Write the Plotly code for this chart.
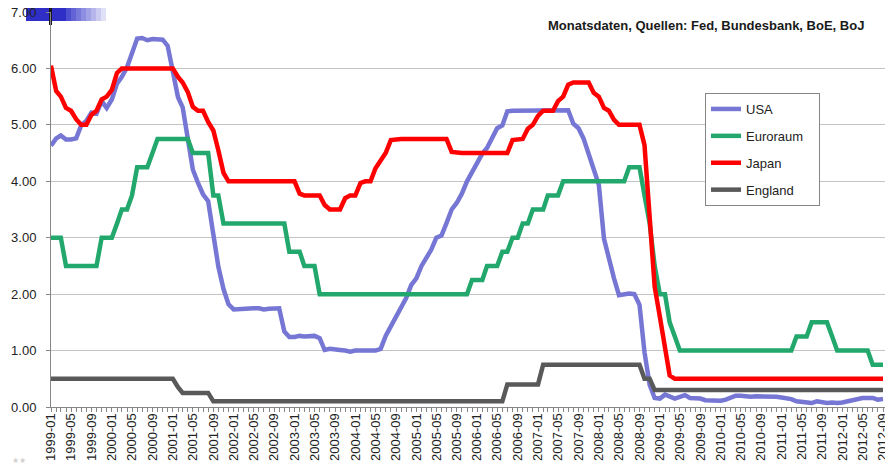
import pandas as pd
import plotly.graph_objects as go

# Leitzinsen, Monatsdaten 1999-01 .. 2012-09
months = pd.date_range("1999-01-01", "2012-09-01", freq="MS")
tick_months = months[::4]
tick_labels = [d.strftime("%Y-%m") for d in tick_months]

usa = [
    4.63, 4.76, 4.81, 4.74, 4.74, 4.76, 4.99, 5.07, 5.22, 5.20, 5.42, 5.30,
    5.45, 5.73, 5.85, 6.02, 6.27, 6.53, 6.54, 6.50, 6.52, 6.51, 6.51, 6.40,
    5.98, 5.49, 5.31, 4.80, 4.21, 3.97, 3.77, 3.65, 3.07, 2.49, 2.09, 1.82,
    1.73, 1.74, 1.73, 1.75, 1.75, 1.75, 1.73, 1.74, 1.75, 1.75, 1.34, 1.24,
    1.24, 1.26, 1.25, 1.26, 1.26, 1.22, 1.01, 1.03, 1.01, 1.01, 1.00, 0.98,
    1.00, 1.01, 1.00, 1.00, 1.00, 1.03, 1.26, 1.43, 1.61, 1.76, 1.93, 2.16,
    2.28, 2.50, 2.63, 2.79, 3.00, 3.04, 3.26, 3.50, 3.62, 3.78, 4.00, 4.16,
    4.29, 4.49, 4.59, 4.79, 4.94, 4.99, 5.24, 5.25, 5.25, 5.25, 5.25, 5.24,
    5.25, 5.26, 5.26, 5.25, 5.25, 5.25, 5.26, 5.02, 4.94, 4.76, 4.49, 4.24,
    3.94, 2.98, 2.61, 2.28, 1.98, 2.00, 2.01, 2.00, 1.81, 0.97, 0.39, 0.16,
    0.15, 0.22, 0.18, 0.15, 0.18, 0.21, 0.16, 0.16, 0.15, 0.12, 0.12, 0.12,
    0.11, 0.13, 0.16, 0.20, 0.20, 0.18, 0.18, 0.19, 0.19, 0.19, 0.19, 0.18,
    0.17, 0.16, 0.14, 0.10, 0.09, 0.09, 0.07, 0.10, 0.08, 0.07, 0.08, 0.07,
    0.08, 0.10, 0.13, 0.14, 0.16, 0.16, 0.16, 0.13, 0.14,
]

euroraum = [
    3.00, 3.00, 3.00, 2.50, 2.50, 2.50, 2.50, 2.50, 2.50, 2.50, 3.00, 3.00,
    3.00, 3.25, 3.50, 3.50, 3.75, 4.25, 4.25, 4.25, 4.50, 4.75, 4.75, 4.75,
    4.75, 4.75, 4.75, 4.75, 4.50, 4.50, 4.50, 4.50, 3.75, 3.75, 3.25, 3.25,
    3.25, 3.25, 3.25, 3.25, 3.25, 3.25, 3.25, 3.25, 3.25, 3.25, 3.25, 2.75,
    2.75, 2.75, 2.50, 2.50, 2.50, 2.00, 2.00, 2.00, 2.00, 2.00, 2.00, 2.00,
    2.00, 2.00, 2.00, 2.00, 2.00, 2.00, 2.00, 2.00, 2.00, 2.00, 2.00, 2.00,
    2.00, 2.00, 2.00, 2.00, 2.00, 2.00, 2.00, 2.00, 2.00, 2.00, 2.00, 2.25,
    2.25, 2.25, 2.50, 2.50, 2.50, 2.75, 2.75, 3.00, 3.00, 3.25, 3.25, 3.50,
    3.50, 3.50, 3.75, 3.75, 3.75, 4.00, 4.00, 4.00, 4.00, 4.00, 4.00, 4.00,
    4.00, 4.00, 4.00, 4.00, 4.00, 4.00, 4.25, 4.25, 4.25, 3.75, 3.25, 2.50,
    2.00, 2.00, 1.50, 1.25, 1.00, 1.00, 1.00, 1.00, 1.00, 1.00, 1.00, 1.00,
    1.00, 1.00, 1.00, 1.00, 1.00, 1.00, 1.00, 1.00, 1.00, 1.00, 1.00, 1.00,
    1.00, 1.00, 1.00, 1.25, 1.25, 1.25, 1.50, 1.50, 1.50, 1.50, 1.25, 1.00,
    1.00, 1.00, 1.00, 1.00, 1.00, 1.00, 0.75, 0.75, 0.75,
]

japan = [
    6.05, 5.60, 5.50, 5.30, 5.25, 5.10, 5.00, 5.00, 5.18, 5.25, 5.45, 5.50,
    5.62, 5.92, 6.00, 6.00, 6.00, 6.00, 6.00, 6.00, 6.00, 6.00, 6.00, 6.00,
    6.00, 5.85, 5.75, 5.58, 5.32, 5.25, 5.25, 5.05, 4.90, 4.55, 4.15, 4.00,
    4.00, 4.00, 4.00, 4.00, 4.00, 4.00, 4.00, 4.00, 4.00, 4.00, 4.00, 4.00,
    4.00, 3.78, 3.75, 3.75, 3.75, 3.75, 3.58, 3.50, 3.50, 3.50, 3.70, 3.75,
    3.75, 3.97, 4.00, 4.00, 4.23, 4.38, 4.50, 4.73, 4.75, 4.75, 4.75, 4.75,
    4.75, 4.75, 4.75, 4.75, 4.75, 4.75, 4.75, 4.52, 4.50, 4.50, 4.50, 4.50,
    4.50, 4.50, 4.50, 4.50, 4.50, 4.50, 4.50, 4.73, 4.75, 4.75, 4.93, 5.00,
    5.16, 5.25, 5.25, 5.25, 5.42, 5.50, 5.71, 5.75, 5.75, 5.75, 5.75, 5.57,
    5.50, 5.30, 5.25, 5.09, 5.00, 5.00, 5.00, 5.00, 5.00, 4.64, 3.40, 2.13,
    1.60, 1.07, 0.56, 0.50, 0.50, 0.50, 0.50, 0.50, 0.50, 0.50, 0.50, 0.50,
    0.50, 0.50, 0.50, 0.50, 0.50, 0.50, 0.50, 0.50, 0.50, 0.50, 0.50, 0.50,
    0.50, 0.50, 0.50, 0.50, 0.50, 0.50, 0.50, 0.50, 0.50, 0.50, 0.50, 0.50,
    0.50, 0.50, 0.50, 0.50, 0.50, 0.50, 0.50, 0.50, 0.50,
]

england = [
    0.50, 0.50, 0.50, 0.50, 0.50, 0.50, 0.50, 0.50, 0.50, 0.50, 0.50, 0.50,
    0.50, 0.50, 0.50, 0.50, 0.50, 0.50, 0.50, 0.50, 0.50, 0.50, 0.50, 0.50,
    0.50, 0.35, 0.25, 0.25, 0.25, 0.25, 0.25, 0.25, 0.10, 0.10, 0.10, 0.10,
    0.10, 0.10, 0.10, 0.10, 0.10, 0.10, 0.10, 0.10, 0.10, 0.10, 0.10, 0.10,
    0.10, 0.10, 0.10, 0.10, 0.10, 0.10, 0.10, 0.10, 0.10, 0.10, 0.10, 0.10,
    0.10, 0.10, 0.10, 0.10, 0.10, 0.10, 0.10, 0.10, 0.10, 0.10, 0.10, 0.10,
    0.10, 0.10, 0.10, 0.10, 0.10, 0.10, 0.10, 0.10, 0.10, 0.10, 0.10, 0.10,
    0.10, 0.10, 0.10, 0.10, 0.10, 0.10, 0.40, 0.40, 0.40, 0.40, 0.40, 0.40,
    0.40, 0.75, 0.75, 0.75, 0.75, 0.75, 0.75, 0.75, 0.75, 0.75, 0.75, 0.75,
    0.75, 0.75, 0.75, 0.75, 0.75, 0.75, 0.75, 0.75, 0.75, 0.50, 0.50, 0.30,
    0.30, 0.30, 0.30, 0.30, 0.30, 0.30, 0.30, 0.30, 0.30, 0.30, 0.30, 0.30,
    0.30, 0.30, 0.30, 0.30, 0.30, 0.30, 0.30, 0.30, 0.30, 0.30, 0.30, 0.30,
    0.30, 0.30, 0.30, 0.30, 0.30, 0.30, 0.30, 0.30, 0.30, 0.30, 0.30, 0.30,
    0.30, 0.30, 0.30, 0.30, 0.30, 0.30, 0.30, 0.30, 0.30,
]

SERIES = [
    ("USA", usa, "#7676D4"),
    ("Euroraum", euroraum, "#22A86C"),
    ("Japan", japan, "#FF0000"),
    ("England", england, "#595959"),
]

FONT = "Liberation Sans, Arial, sans-serif"
AXIS_GREY = "#868686"

# the page body has an 8px margin, so the figure is a bit smaller than the
# window and its plot area is given in page pixels
PAGE_W, PAGE_H, OFF = 893, 466, 8
W, H = PAGE_W - OFF, PAGE_H - OFF
P_LEFT, P_RIGHT, P_TOP, P_BOTTOM = 51, 887, 12, 407
PW, PH = P_RIGHT - P_LEFT, P_BOTTOM - P_TOP


def px(x):
    return (x - P_LEFT) / PW


def py(y):
    return (P_BOTTOM - y) / PH


fig = go.Figure()
for i, (name, vals, color) in enumerate(SERIES):
    assert len(vals) == len(months), name
    fig.add_trace(go.Scatter(
        x=months, y=vals, name=name + "\u00a0" * 3, mode="lines",
        line=dict(color=color, width=4.5),
        legendgroup=str(i),
    ))

# slide decorations at the top left (remains of the cut-off title bar)
shapes = [
    dict(type="rect", x0=px(26), x1=px(66), y0=py(21), y1=py(5),
         fillcolor="#2F2FC8", line_width=0),
]
for k in range(8):
    shapes.append(dict(type="rect", x0=px(66 + 5 * k), x1=px(71 + 5 * k),
                       y0=py(21), y1=py(5), fillcolor="#2F2FC8",
                       opacity=0.85 - 0.1 * k, line_width=0))
shapes.append(dict(type="rect", x0=px(49), x1=px(52), y0=py(25), y1=py(2),
                   fillcolor="#1A1A1A", line_width=0))
for s in shapes:
    s.update(xref="paper", yref="paper", layer="below")

fig.update_layout(
    width=W, height=H,
    margin=dict(l=P_LEFT - OFF, r=PAGE_W - P_RIGHT, t=P_TOP - OFF,
                b=PAGE_H - P_BOTTOM, pad=0, autoexpand=False),
    paper_bgcolor="white", plot_bgcolor="white",
    font=dict(family=FONT, size=13, color="#222222"),
    showlegend=True,
    legend=dict(
        x=px(705), y=py(93), xanchor="left", yanchor="top",
        bgcolor="white", bordercolor=AXIS_GREY, borderwidth=1,
        font=dict(size=13, color="#222222"),
        tracegroupgap=7, itemwidth=30,
    ),
    xaxis=dict(
        type="date",
        range=[months[0], months[-1] + pd.Timedelta(days=24)],
        tickvals=tick_months, ticktext=tick_labels, tickangle=-90,
        ticks="outside", ticklen=4, tickcolor=AXIS_GREY,
        ticklabelstandoff=-4, ticklabeloverflow="allow",
        minor=dict(dtick="M1", tick0=months[0], ticks="outside", ticklen=4,
                   tickcolor=AXIS_GREY, showgrid=False),
        showgrid=False, showline=True, linecolor=AXIS_GREY, linewidth=1,
        tickfont=dict(size=13, color="#222222"),
    ),
    yaxis=dict(
        range=[0, 7], dtick=1, tick0=0, tickformat=".2f",
        showgrid=True, gridcolor="#C4C4C4", gridwidth=1,
        showline=True, linecolor=AXIS_GREY, linewidth=1,
        ticks="outside", ticklen=4, tickcolor=AXIS_GREY,
        ticklabelstandoff=7, ticklabeloverflow="allow",
        zeroline=False, tickfont=dict(size=13, color="#222222"),
    ),
    # darker grid lines at every second step, as in the original
    yaxis2=dict(
        overlaying="y", range=[0, 7], dtick=2, tick0=0,
        showgrid=True, gridcolor=AXIS_GREY, gridwidth=1,
        showticklabels=False, ticks="", zeroline=False, showline=False,
    ),
    shapes=shapes,
    annotations=[
        dict(text="<b>Monatsdaten, Quellen: Fed, Bundesbank, BoE, BoJ</b>",
             xref="paper", yref="paper", x=px(866), y=py(26),
             xanchor="right", yanchor="middle", showarrow=False,
             font=dict(family=FONT, size=13, color="#1A1A1A")),
        dict(text="★★", xref="paper", yref="paper", x=px(10), y=py(460),
             xanchor="left", yanchor="middle", showarrow=False,
             font=dict(size=8, color="#D0D0D0")),
    ],
)

fig.write_html("out.html")
